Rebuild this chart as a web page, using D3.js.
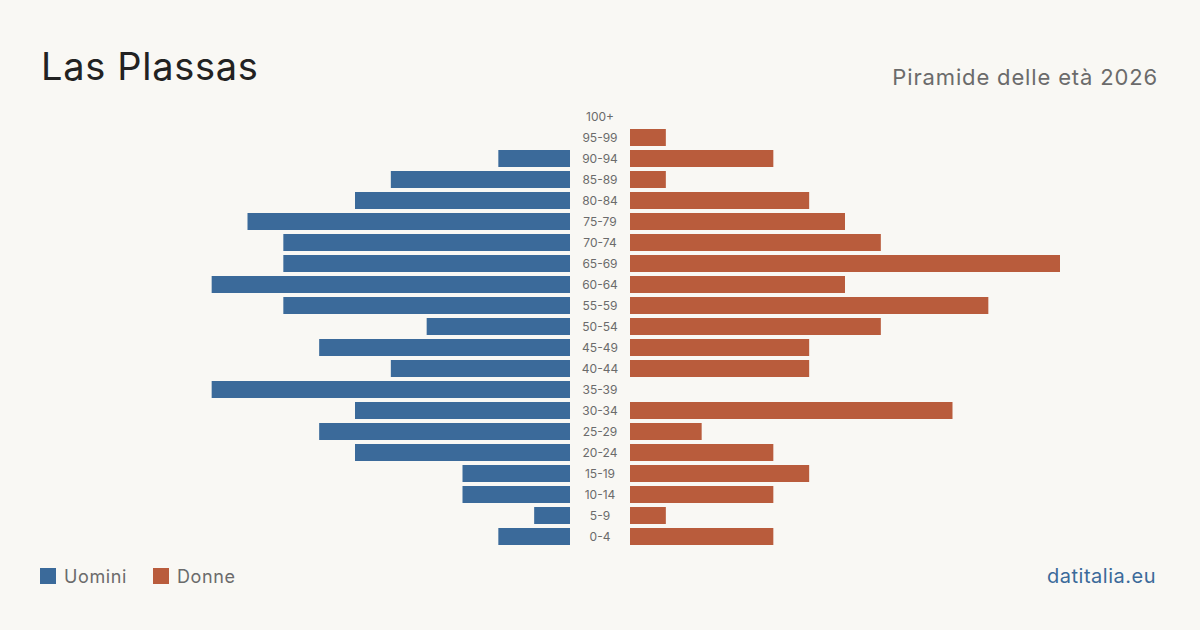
<!DOCTYPE html>
<html>
<head>
<meta charset="utf-8">
<script src="https://cdn.jsdelivr.net/npm/d3@7"></script>
<style>
  html, body { margin: 0; padding: 0; background: #f9f8f4; }
  svg { display: block; font-family: Inter, "Noto Sans", sans-serif; }
</style>
</head>
<body>
<div id="container"></div>
<script>
// fasce d'età, dall'alto verso il basso
const ageGroups = ["100+", "95-99", "90-94", "85-89", "80-84", "75-79", "70-74", "65-69",
  "60-64", "55-59", "50-54", "45-49", "40-44", "35-39", "30-34", "25-29", "20-24",
  "15-19", "10-14", "5-9", "0-4"];
const men   = [0, 0, 2, 5, 6, 9, 8, 8, 10, 8, 4, 7, 5, 10, 6, 7, 6, 3, 3, 1, 2];
const women = [0, 1, 4, 1, 5, 6, 7, 12, 6, 10, 7, 5, 5, 0, 9, 2, 4, 5, 4, 1, 4];
const legendItems = ["Uomini", "Donne"];

const W = 1200, H = 630;
const colMen = "#3b6a9a", colWomen = "#b95c3c";

const svg = d3.select("#container")
  .append("svg")
  .attr("width", W)
  .attr("height", H);

svg.append("rect").attr("width", W).attr("height", H).attr("fill", "#f9f8f4");

// titoli
svg.append("text")
  .attr("x", 41).attr("y", 80)
  .attr("font-size", 38)
  .attr("letter-spacing", 0.7)
  .attr("fill", "#222")
  .text("Las Plassas");

svg.append("text")
  .attr("x", 1158).attr("y", 85)
  .attr("text-anchor", "end")
  .attr("font-size", 22)
  .attr("letter-spacing", 0.85)
  .attr("fill", "#6b6b6b")
  .text("Piramide delle età 2026");

// scale
const y = d3.scaleBand()
  .domain(ageGroups)
  .range([108, 545])
  .paddingInner(4 / 21)
  .paddingOuter(0);

const x = d3.scaleLinear()
  .domain([0, 12])
  .range([0, 430]);

const centerL = 570, centerR = 630;

// barre uomini
svg.append("g")
  .selectAll("rect")
  .data(ageGroups.map((g, i) => ({ g: g, v: men[i] })))
  .join("rect")
  .attr("x", d => centerL - x(d.v))
  .attr("y", d => y(d.g))
  .attr("width", d => x(d.v))
  .attr("height", y.bandwidth())
  .attr("fill", colMen);

// barre donne
svg.append("g")
  .selectAll("rect")
  .data(ageGroups.map((g, i) => ({ g: g, v: women[i] })))
  .join("rect")
  .attr("x", centerR)
  .attr("y", d => y(d.g))
  .attr("width", d => x(d.v))
  .attr("height", y.bandwidth())
  .attr("fill", colWomen);

// etichette età
svg.append("g")
  .selectAll("text")
  .data(ageGroups)
  .join("text")
  .attr("x", 600)
  .attr("y", d => y(d) + y.bandwidth() / 2)
  .attr("dy", "0.35em")
  .attr("text-anchor", "middle")
  .attr("font-size", 12)
  .attr("fill", "#6b6b6b")
  .text(d => d);

// legenda
const legendX = [40, 153];
const legend = svg.append("g")
  .selectAll("g")
  .data(legendItems)
  .join("g")
  .attr("transform", (d, i) => `translate(${legendX[i]},568)`);

legend.append("rect")
  .attr("width", 16).attr("height", 16)
  .attr("fill", (d, i) => i === 0 ? colMen : colWomen);

legend.append("text")
  .attr("x", 24).attr("y", 9)
  .attr("dy", "0.35em")
  .attr("font-size", 18)
  .attr("letter-spacing", 0.6)
  .attr("fill", "#6b6b6b")
  .text(d => d);

svg.append("text")
  .attr("x", 1156).attr("y", 583)
  .attr("text-anchor", "end")
  .attr("font-size", 20)
  .attr("letter-spacing", 0.5)
  .attr("fill", colMen)
  .text("datitalia.eu");
</script>
</body>
</html>
